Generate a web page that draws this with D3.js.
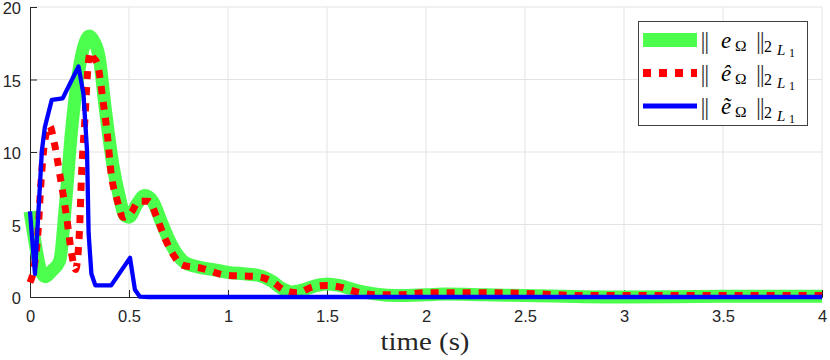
<!DOCTYPE html>
<html>
<head>
<meta charset="utf-8">
<script src="https://cdn.jsdelivr.net/npm/d3@7/dist/d3.min.js"></script>
<style>
  html, body { margin: 0; padding: 0; background: #fff; }
  svg { display: block; }
</style>
</head>
<body>
<svg id="chart" width="830" height="360"></svg>
<script>
// data
const xTicks = [0, 0.5, 1, 1.5, 2, 2.5, 3, 3.5, 4];
const yTicks = [0, 5, 10, 15, 20];
const xLabel = "time (s)";

// || e_Omega || (green, thick)
const greenT = [0, 0.02, 0.05, 0.075, 0.11, 0.15, 0.18, 0.21, 0.24, 0.27, 0.30, 0.32, 0.35, 0.38, 0.42, 0.45, 0.48, 0.50, 0.54, 0.58, 0.62, 0.66, 0.70, 0.74, 0.78, 0.84, 0.92, 1.0, 1.08, 1.15, 1.22, 1.27, 1.32, 1.38, 1.45, 1.5, 1.56, 1.65, 1.75, 1.85, 2.0, 2.1, 2.3, 2.5, 2.7, 3.0, 3.5, 4.0];
const greenV = [5.9, 4.2, 2.0, 1.4, 1.8, 2.5, 6.5, 11.5, 15.0, 17.2, 18.0, 17.7, 16.5, 13.0, 9.0, 7.0, 5.6, 5.5, 6.4, 7.0, 6.6, 5.3, 4.0, 3.0, 2.4, 2.1, 1.9, 1.7, 1.6, 1.5, 1.1, 0.6, 0.35, 0.5, 0.8, 0.9, 0.8, 0.45, 0.2, 0.1, 0.15, 0.2, 0.15, 0.1, 0.05, 0.0, 0.05, 0.05];

// || e^_Omega || (red, dotted)
const redT = [0, 0.02, 0.04, 0.055, 0.075, 0.1, 0.12, 0.15, 0.185, 0.21, 0.23, 0.25, 0.26, 0.278, 0.293, 0.305, 0.32, 0.34, 0.37, 0.39, 0.41, 0.44, 0.47, 0.51, 0.55, 0.6, 0.64, 0.68, 0.72, 0.77, 0.86, 0.99, 1.15, 1.23, 1.28, 1.35, 1.43, 1.5, 1.56, 1.65, 1.75, 1.87, 2.0, 2.2, 2.5, 2.8, 3.0, 3.5, 4.0];
const redV = [1.0, 2.0, 4.4, 7.8, 10.8, 11.8, 10.8, 8.5, 5.5, 3.0, 1.9, 4.6, 8.3, 12.4, 15.9, 16.9, 16.5, 16.1, 13.4, 11.3, 8.5, 6.7, 5.5, 5.8, 6.6, 6.6, 5.5, 4.1, 3.0, 2.2, 2.0, 1.5, 1.4, 1.0, 0.5, 0.3, 0.7, 0.8, 0.7, 0.35, 0.15, 0.15, 0.3, 0.3, 0.25, 0.1, 0.1, 0.1, 0.1];

// || e~_Omega || (blue, solid)
const blueT = [0, 0.025, 0.06, 0.075, 0.11, 0.165, 0.245, 0.27, 0.288, 0.296, 0.31, 0.33, 0.41, 0.505, 0.53, 0.555, 0.6, 4.0];
const blueV = [5.9, 1.6, 10.1, 11.7, 13.6, 13.7, 15.9, 14.0, 10.1, 4.4, 1.6, 0.8, 0.8, 2.7, 0.5, 0.02, 0.0, 0.0];

const legendNames = ["e", "\u00ea", "\u1ebd"];

const W = 830, H = 360;
const margin = { top: 7, right: 8, bottom: 63, left: 30 };

const svg = d3.select("#chart");

const x = d3.scaleLinear().domain([0, 4]).range([margin.left, W - margin.right]);
const y = d3.scaleLinear().domain([0, 20]).range([H - margin.bottom, margin.top]);

// grid
svg.append("g")
    .attr("stroke", "#e3e3e3")
    .attr("stroke-width", 1)
  .selectAll("line")
  .data(xTicks.filter(d => d > 0))
  .join("line")
    .attr("x1", d => x(d)).attr("x2", d => x(d))
    .attr("y1", y(0)).attr("y2", y(20));

svg.append("g")
    .attr("stroke", "#e3e3e3")
    .attr("stroke-width", 1)
  .selectAll("line")
  .data(yTicks.filter(d => d > 0))
  .join("line")
    .attr("x1", x(0)).attr("x2", x(4))
    .attr("y1", d => y(d)).attr("y2", d => y(d));

// axes
const xAxis = d3.axisBottom(x).tickValues(xTicks).tickSize(-7).tickPadding(13)
  .tickFormat(d => d3.format("~g")(d));
const yAxis = d3.axisLeft(y).tickValues(yTicks).tickSize(-7).tickPadding(9);

const gx = svg.append("g")
    .attr("transform", `translate(0,${y(0)})`)
    .call(xAxis);
const gy = svg.append("g")
    .attr("transform", `translate(${x(0)},0)`)
    .call(yAxis);

[gx, gy].forEach(g => {
  g.select(".domain").attr("stroke", "#262626").attr("stroke-width", 1);
  g.selectAll(".tick line").attr("stroke", "#262626");
  g.selectAll(".tick text")
    .attr("fill", "#262626")
    .attr("font-family", "Liberation Sans, Arial, sans-serif")
    .attr("font-size", 16.5);
});
gy.selectAll(".tick text").attr("dy", "0.4em");

// lines
const lineSmooth = d3.line().x(d => x(d[0])).y(d => y(d[1])).curve(d3.curveMonotoneX);
const lineSharp = d3.line().x(d => x(d[0])).y(d => y(d[1]));

const greenData = d3.zip(greenT, greenV);
const redData = d3.zip(redT, redV);
const blueData = d3.zip(blueT, blueV);

svg.append("path")
    .datum(greenData)
    .attr("fill", "none")
    .attr("stroke", "#4cff4c")
    .attr("stroke-width", 13)
    .attr("stroke-linejoin", "round")
    .attr("d", lineSmooth);

svg.append("path")
    .datum(redData)
    .attr("fill", "none")
    .attr("stroke", "#ff0000")
    .attr("stroke-width", 7)
    .attr("stroke-dasharray", "8,8")
    .attr("d", lineSmooth);

svg.append("path")
    .datum(blueData)
    .attr("fill", "none")
    .attr("stroke", "#0000ff")
    .attr("stroke-width", 4.3)
    .attr("stroke-linejoin", "round")
    .attr("d", lineSharp);

// x label
svg.append("text")
    .attr("x", 425)
    .attr("y", 350)
    .attr("text-anchor", "middle")
    .attr("font-family", "Liberation Serif, serif")
    .attr("font-size", 25)
    .attr("textLength", 89)
    .attr("lengthAdjust", "spacingAndGlyphs")
    .attr("fill", "#262626")
    .text(xLabel);

// legend
const leg = svg.append("g");
leg.append("rect")
    .attr("x", 638.5).attr("y", 21.5)
    .attr("width", 169).attr("height", 104)
    .attr("fill", "#fff")
    .attr("stroke", "#404040")
    .attr("stroke-width", 1);

const legStyles = [
  { color: "#4cff4c", width: 14, dash: null },
  { color: "#ff0000", width: 8, dash: "8,8" },
  { color: "#0000ff", width: 5, dash: null }
];
const rowY = [40, 73, 106];
const serif = "Liberation Serif, serif";

// opacity just under 1 makes the text layer use grey antialiasing (no colour fringes)
const legText = leg.append("g").attr("opacity", 0.999);

legStyles.forEach((s, i) => {
  const cy = rowY[i];
  leg.append("line")
      .attr("x1", 643).attr("x2", 697)
      .attr("y1", cy).attr("y2", cy)
      .attr("stroke", s.color)
      .attr("stroke-width", s.width)
      .attr("stroke-dasharray", s.dash);

  const t = legText.append("g").attr("font-family", serif).attr("fill", "#000");
  const base = cy + 8;
  t.append("text").attr("x", 700.5).attr("y", base + 0.5).attr("font-size", 25)
      .attr("letter-spacing", -1.2).attr("fill", "#333").text("||");
  t.append("text").attr("x", 721).attr("y", base).attr("font-size", 23)
      .attr("font-style", "italic").text(legendNames[i]);
  t.append("text").attr("x", 735).attr("y", base + 3).attr("font-size", 15.5).text("\u03a9");
  t.append("text").attr("x", 756).attr("y", base + 0.5).attr("font-size", 25)
      .attr("letter-spacing", -1.2).attr("fill", "#333").text("||");
  t.append("text").attr("x", 764).attr("y", base + 4).attr("font-size", 16).text("2");
  t.append("text").attr("x", 777).attr("y", base + 7).attr("font-size", 15)
      .attr("font-style", "italic").text("L");
  t.append("text").attr("x", 789).attr("y", base + 9).attr("font-size", 12).text("1");
});
</script>
</body>
</html>
